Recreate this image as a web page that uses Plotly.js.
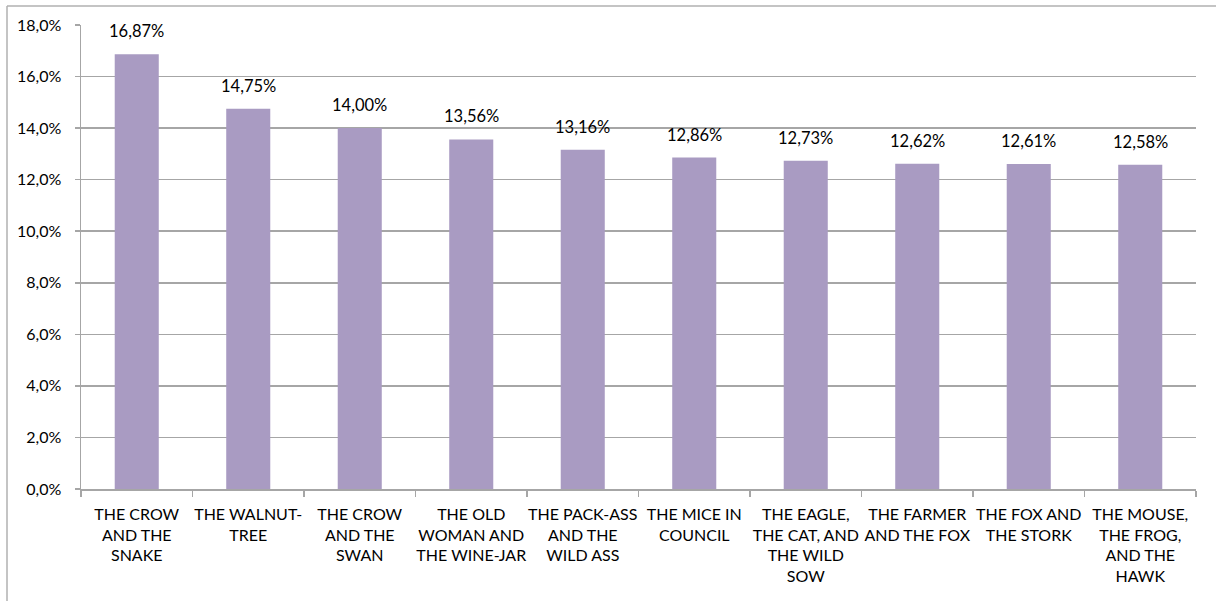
<!DOCTYPE html>
<html>
<head>
<meta charset="utf-8">
<script src="https://cdn.plot.ly/plotly-3.0.1.min.js"></script>
<style>
  html, body { margin: 0; padding: 0; background: #fff; }
  #chart { width: 1216px; height: 601px; }
</style>
</head>
<body>
<div id="chart"></div>
<script>
const categories = [
  "THE CROW<br>AND THE<br>SNAKE",
  "THE WALNUT-<br>TREE",
  "THE CROW<br>AND THE<br>SWAN",
  "THE OLD<br>WOMAN AND<br>THE WINE-JAR",
  "THE PACK-ASS<br>AND THE<br>WILD ASS",
  "THE MICE IN<br>COUNCIL",
  "THE EAGLE,<br>THE CAT, AND<br>THE WILD<br>SOW",
  "THE FARMER<br>AND THE FOX",
  "THE FOX AND<br>THE STORK",
  "THE MOUSE,<br>THE FROG,<br>AND THE<br>HAWK"
];
const values = [16.87, 14.75, 14.00, 13.56, 13.16, 12.86, 12.73, 12.62, 12.61, 12.58];
const yTicks = [0, 2, 4, 6, 8, 10, 12, 14, 16, 18];
const yTickText = ["0,0%", "2,0%", "4,0%", "6,0%", "8,0%", "10,0%", "12,0%", "14,0%", "16,0%", "18,0%"];

const FONT = "Lato, 'Open Sans', sans-serif";
const GRID = "#a6a6a6";

const ml = 81, mr = 20, mt = 25, mb = 112;
const W = 1216, H = 601;
const pw = W - ml - mr, ph = H - mt - mb;

const annotations = values.map((v, i) => ({
  x: categories[i], y: v, xref: "x", yref: "y",
  text: v.toFixed(2).replace(".", ",") + "%",
  showarrow: false, yanchor: "bottom", yshift: 11,
  font: { family: FONT, size: 16.5, color: "#000" }
}));

const trace = {
  type: "bar",
  x: categories,
  y: values,
  marker: { color: "#a99bc2", line: { width: 0 } },
  hoverinfo: "skip"
};

const layout = {
  width: W, height: H,
  margin: { l: ml, r: mr, t: mt, b: mb, pad: 0 },
  paper_bgcolor: "#fff",
  plot_bgcolor: "#fff",
  separators: ",.",
  showlegend: false,
  bargap: 0.605,
  font: { family: FONT, size: 14, color: "#000" },
  xaxis: {
    type: "category",
    showline: true, linecolor: GRID, linewidth: 1.5,
    ticks: "outside", tickson: "boundaries", ticklen: 6, tickcolor: GRID, tickwidth: 1.5,
    showgrid: false,
    ticklabelstandoff: 10,
    tickfont: { family: FONT, size: 16, color: "#000" },
    tickangle: 0,
    automargin: false
  },
  yaxis: {
    range: [0, 18],
    tickvals: yTicks,
    ticktext: yTickText,
    showline: true, linecolor: GRID, linewidth: 1.5,
    ticks: "outside", ticklen: 5, tickcolor: GRID, tickwidth: 1.5,
    showgrid: true, gridcolor: GRID, gridwidth: 1.5,
    zeroline: false,
    ticklabelstandoff: 10,
    tickfont: { family: FONT, size: 16, color: "#000" },
    automargin: false
  },
  annotations: annotations,
  shapes: [
    { type: "line", xref: "paper", yref: "paper",
      x0: (7 - ml) / pw, x1: (W - ml) / pw, y0: 1 + (mt - 6) / ph, y1: 1 + (mt - 6) / ph,
      line: { color: "#b0b0b0", width: 1.5 } },
    { type: "line", xref: "paper", yref: "paper",
      x0: (7 - ml) / pw, x1: (7 - ml) / pw, y0: 1 + (mt - 6) / ph, y1: -(mb) / ph,
      line: { color: "#b0b0b0", width: 1.5 } }
  ]
};

Plotly.newPlot("chart", [trace], layout, { staticPlot: true, displayModeBar: false });
</script>
</body>
</html>
